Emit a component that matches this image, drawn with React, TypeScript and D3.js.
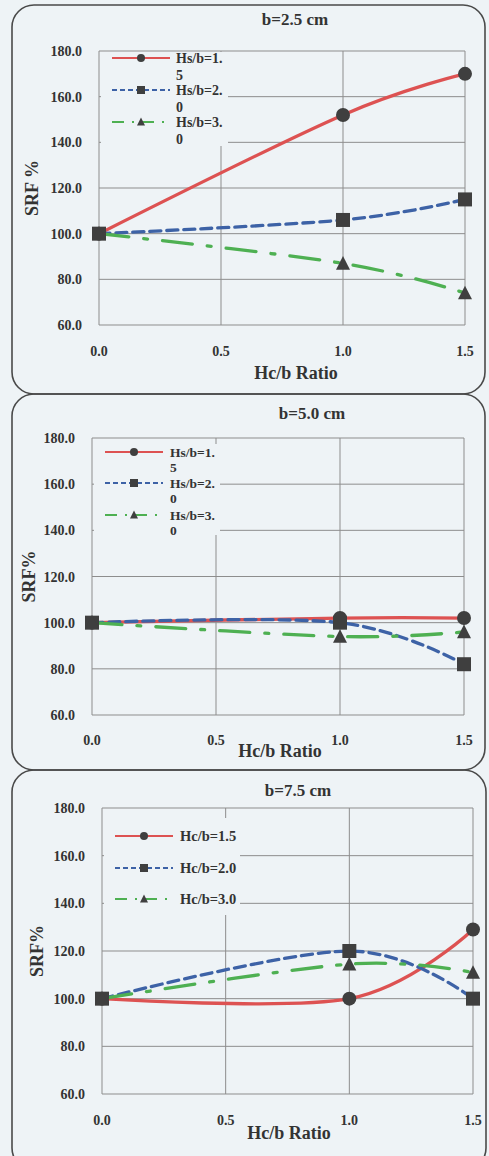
import React, { useRef, useEffect } from 'react';
import * as d3 from 'd3';

// x values where the measurements were taken (Hc/b ratio)
const hcRatio = [0, 1.0, 1.5];
const xTicks = [0, 0.5, 1.0, 1.5];
const yTicks = [60, 80, 100, 120, 140, 160, 180];

const panelTitles = ['b=2.5 cm', 'b=5.0 cm', 'b=7.5 cm'];
const yTitles = ['SRF %', 'SRF%', 'SRF%'];
const xTitle = 'Hc/b Ratio';

// legend labels (the first two panels wrap like in the original)
const legendHs = [['Hs/b=1.', '5'], ['Hs/b=2.', '0'], ['Hs/b=3.', '0']];
const legendHc = [['Hc/b=1.5'], ['Hc/b=2.0'], ['Hc/b=3.0']];

// SRF % values, b = 2.5 cm
const b25s1 = [100, 152, 170];
const b25s2 = [100, 106, 115];
const b25s3 = [100, 87, 74];
// b = 5.0 cm
const b50s1 = [100, 102, 102];
const b50s2 = [100, 100, 82];
const b50s3 = [100, 94, 96];
// b = 7.5 cm
const b75s1 = [100, 100, 129];
const b75s2 = [100, 120, 100];
const b75s3 = [100, 114.5, 111];

const seriesStyle = [
  { color: '#dd5252', dash: null, legendDash: null, marker: 'circle' },
  { color: '#3d62a6', dash: '11,6', legendDash: '5,3', marker: 'square' },
  { color: '#4eb052', dash: '30,15,4,15', legendDash: '12,8,2,8', marker: 'triangle' },
];

const BG = '#eef3f6';
const TEXT = '#333';
const FONT = '"Liberation Serif", "Times New Roman", serif';

const panels = [
  {
    title: panelTitles[0], yTitle: yTitles[0], legend: legendHs, data: [b25s1, b25s2, b25s3],
    frame: [12, 5, 473, 389], plot: [99, 465, 51, 325], titleXY: [295, 25],
    xTickY: 356, xTitleXY: [296, 379], yTitleX: 38,
    legendBox: [101, 52, 127, 94], legendLine: [112, 170], labelX: 176, legendRows: [58, 90, 122],
    wrapGap: 17, legendFont: 14,
  },
  {
    title: panelTitles[1], yTitle: yTitles[1], legend: legendHs, data: [b50s1, b50s2, b50s3],
    frame: [12, 394, 473, 376], plot: [92, 464, 438, 715], titleXY: [312, 419],
    xTickY: 745, xTitleXY: [280, 757], yTitleX: 35,
    legendBox: [94, 444, 126, 91], legendLine: [105, 163], labelX: 170, legendRows: [452, 483, 515],
    wrapGap: 15, legendFont: 13.5,
  },
  {
    title: panelTitles[2], yTitle: yTitles[2], legend: legendHc, data: [b75s1, b75s2, b75s3],
    frame: [12, 770, 474, 400], plot: [102, 473, 808, 1094], titleXY: [298, 796],
    xTickY: 1125, xTitleXY: [289, 1139], yTitleX: 43,
    legendBox: [104, 818, 136, 97], legendLine: [115, 173], labelX: 180, legendRows: [836, 868, 899],
    wrapGap: 17, legendFont: 14.5,
  },
];

function drawMarker(g, type, x, y, size, color) {
  if (type === 'circle') {
    g.append('circle').attr('cx', x).attr('cy', y).attr('r', size / 2).attr('fill', color);
  } else if (type === 'square') {
    g.append('rect').attr('x', x - size / 2).attr('y', y - size / 2)
      .attr('width', size).attr('height', size).attr('fill', color);
  } else {
    const h = size * 0.9;
    g.append('path')
      .attr('d', `M${x},${y - h / 2 - 1}L${x + size / 2},${y + h / 2}L${x - size / 2},${y + h / 2}Z`)
      .attr('fill', color);
  }
}

function App() {
  const svgRef = useRef(null);

  useEffect(() => {
    const svg = d3.select(svgRef.current);
    svg.selectAll('*').remove();

    svg.append('rect').attr('width', 489).attr('height', 1156).attr('fill', BG);

    panels.forEach((p) => {
      const g = svg.append('g');
      const [px0, px1, py0, py1] = p.plot;
      const x = d3.scaleLinear().domain([0, 1.5]).range([px0, px1]);
      const y = d3.scaleLinear().domain([60, 180]).range([py1, py0]);

      // panel frame
      g.append('rect')
        .attr('x', p.frame[0]).attr('y', p.frame[1])
        .attr('width', p.frame[2]).attr('height', p.frame[3])
        .attr('rx', 22).attr('fill', 'none')
        .attr('stroke', '#4a4a4a').attr('stroke-width', 1.6);

      // grid
      g.selectAll('.hgrid').data(yTicks).join('line')
        .attr('x1', px0).attr('x2', px1)
        .attr('y1', (d) => y(d)).attr('y2', (d) => y(d))
        .attr('stroke', '#8d8d8d').attr('stroke-width', 1);
      g.selectAll('.vgrid').data(xTicks).join('line')
        .attr('y1', py0).attr('y2', py1)
        .attr('x1', (d) => x(d)).attr('x2', (d) => x(d))
        .attr('stroke', '#8d8d8d').attr('stroke-width', 1);

      // legend box hides grid behind it
      g.append('rect')
        .attr('x', p.legendBox[0]).attr('y', p.legendBox[1])
        .attr('width', p.legendBox[2]).attr('height', p.legendBox[3])
        .attr('fill', BG);

      // tick labels
      g.selectAll('.ytick').data(yTicks).join('text')
        .attr('x', px0 - 17).attr('y', (d) => y(d) + 5)
        .attr('text-anchor', 'end')
        .attr('font-family', FONT).attr('font-weight', 'bold').attr('font-size', 14)
        .attr('fill', TEXT)
        .text((d) => d3.format('.1f')(d));
      g.selectAll('.xtick').data(xTicks).join('text')
        .attr('x', (d) => x(d)).attr('y', p.xTickY)
        .attr('text-anchor', 'middle')
        .attr('font-family', FONT).attr('font-weight', 'bold').attr('font-size', 14)
        .attr('fill', TEXT)
        .text((d) => d3.format('.1f')(d));

      // titles
      g.append('text')
        .attr('x', p.titleXY[0]).attr('y', p.titleXY[1])
        .attr('text-anchor', 'middle')
        .attr('font-family', FONT).attr('font-weight', 'bold').attr('font-size', 17)
        .attr('fill', TEXT).text(p.title);
      g.append('text')
        .attr('x', p.xTitleXY[0]).attr('y', p.xTitleXY[1])
        .attr('text-anchor', 'middle')
        .attr('font-family', FONT).attr('font-weight', 'bold').attr('font-size', 18)
        .attr('fill', TEXT).text(xTitle);
      g.append('text')
        .attr('transform', `translate(${p.yTitleX},${(py0 + py1) / 2}) rotate(-90)`)
        .attr('text-anchor', 'middle')
        .attr('font-family', FONT).attr('font-weight', 'bold').attr('font-size', 18)
        .attr('fill', TEXT).text(p.yTitle);

      // series lines
      const lineGen = d3.line()
        .x((d, i) => x(hcRatio[i]))
        .y((d) => y(d))
        .curve(d3.curveCardinal.tension(0));

      p.data.forEach((vals, si) => {
        const s = seriesStyle[si];
        g.append('path')
          .attr('d', lineGen(vals))
          .attr('fill', 'none')
          .attr('stroke', s.color)
          .attr('stroke-width', 3.3)
          .attr('stroke-linecap', 'round')
          .attr('stroke-dasharray', s.dash);
      });
      p.data.forEach((vals, si) => {
        vals.forEach((v, i) => drawMarker(g, seriesStyle[si].marker, x(hcRatio[i]), y(v), 14, '#3f3f3f'));
      });

      // legend
      p.legend.forEach((label, si) => {
        const s = seriesStyle[si];
        const ly = p.legendRows[si];
        const [lx0, lx1] = p.legendLine;
        g.append('line')
          .attr('x1', lx0).attr('x2', lx1).attr('y1', ly).attr('y2', ly)
          .attr('stroke', s.color).attr('stroke-width', 2)
          .attr('stroke-dasharray', s.legendDash);
        drawMarker(g, s.marker, (lx0 + lx1) / 2, ly, 8, '#3f3f3f');
        const t = g.append('text')
          .attr('font-family', FONT).attr('font-weight', 'bold').attr('font-size', p.legendFont)
          .attr('fill', TEXT);
        label.forEach((line, li) => {
          t.append('tspan').attr('x', p.labelX).attr('y', ly + 5 + li * p.wrapGap).text(line);
        });
      });
    });
  }, []);

  return (
    <svg
      ref={svgRef}
      width={489}
      height={1156}
      style={{ position: 'absolute', left: 0, top: 0, display: 'block' }}
    />
  );
}

export default App;
